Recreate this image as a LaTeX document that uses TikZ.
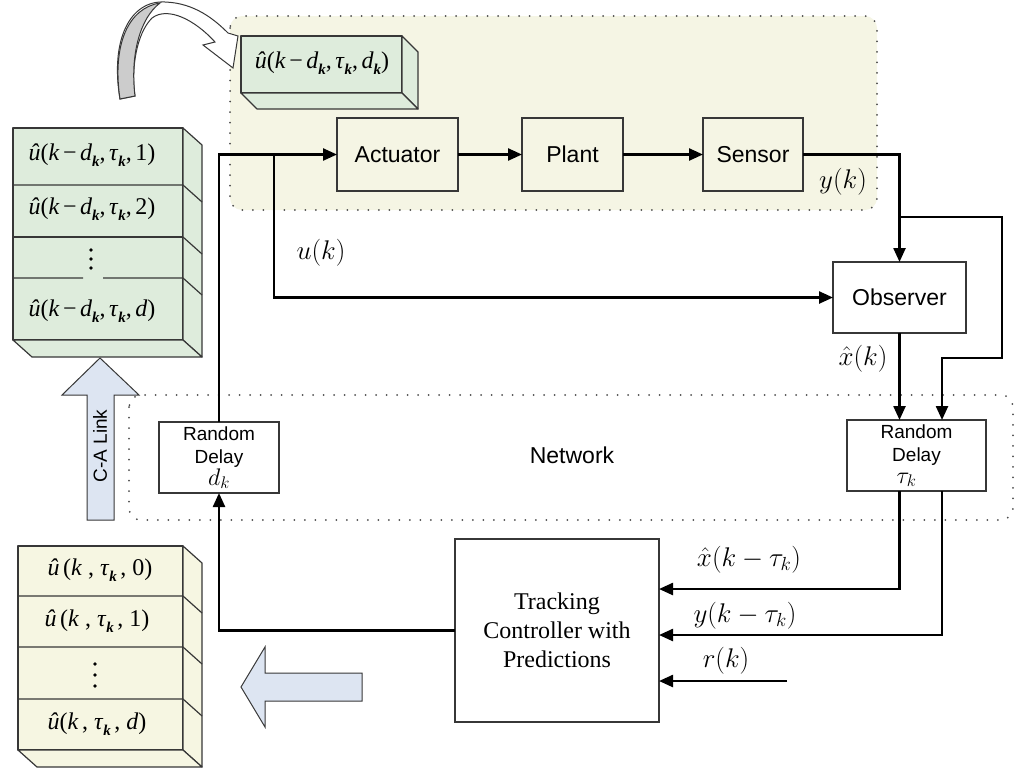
\documentclass[tikz,border=0pt]{standalone}
\usepackage{fix-cm}
\usepackage{fontspec}
\newfontfamily\sansf{Liberation Sans}
\newfontfamily\serf{Liberation Serif}
\usetikzlibrary{arrows.meta,calc}

\definecolor{ctrlzone}{RGB}{245,245,228}
\definecolor{stackgreen}{RGB}{222,236,220}
\definecolor{stackyellow}{RGB}{246,246,226}
\definecolor{hollowblue}{RGB}{221,229,242}
\definecolor{edgegray}{RGB}{55,55,55}

% subscript k of the buffer entries
\newcommand{\ks}{\raisebox{-0.5ex}{\fontsize{15}{15}\selectfont\textbf{\textit{k}}}}
\newcommand{\gp}{\hspace{3.5pt}}
\newcommand{\gq}{\hspace{6pt}}

\tikzset{
  blk/.style={draw=edgegray, line width=1.3pt, inner sep=0pt, outer sep=0pt,
    text=black, font=\sansf\fontsize{23}{27}\selectfont},
  rdbox/.style={blk, align=center, font=\sansf\fontsize{19}{23}\selectfont},
  conn/.style={line width=2.4pt, draw=black},
  arr/.style={conn, -{Triangle[length=14pt,width=12pt]}},
  zone/.style={draw=gray!60!black, dash pattern=on 0pt off 10.5pt,
    line cap=round, line width=2pt},
  face/.style={draw=edgegray, line width=1.2pt, line join=round},
  hollow/.style={fill=hollowblue, draw=edgegray, line width=1pt, line join=miter},
  mlab/.style={inner sep=0pt, font=\fontsize{27}{30}\selectfont},
  buf/.style={inner sep=0pt, font=\serf\fontsize{24}{28}\selectfont}
}

\begin{document}
\begin{tikzpicture}[x=1pt,y=-1pt]
\useasboundingbox (0,0) rectangle (1019,774);

% plant side and network zones
\draw[zone, fill=ctrlzone, rounded corners=12pt] (230,16) rectangle (877,210);
\draw[zone, rounded corners=12pt] (129,395) rectangle (1013,520);
\node[inner sep=0pt, font=\sansf\fontsize{23}{27}\selectfont] (net) at (572,455) {Network};

% curved transfer arrow
\filldraw[fill=white, draw=edgegray, line width=1pt, line join=miter]
  (120,99) .. controls (110,40) and (130,0) .. (165,2)
  .. controls (195,3) and (215,20) .. (228,33) -- (238,36) -- (233,68)
  -- (203,45) -- (215,42) .. controls (195,20) and (168,6) .. (152,18)
  .. controls (136,34) and (131,70) .. (135,96) -- cycle;
\filldraw[fill=gray!40, draw=edgegray, line width=1pt]
  (120,99) .. controls (112,45) and (128,8) .. (160,3)
  .. controls (140,18) and (130,55) .. (135,96) -- cycle;

% current control value buffer
\node[face, fill=stackgreen, inner sep=0pt, outer sep=0pt,
  minimum width=161pt, minimum height=57pt] (curbuf) at (321.5,64.5) {};
\filldraw[face, fill=stackgreen] (curbuf.north east) -- ++(16,16)
  -- ($(curbuf.south east)+(16,16)$) -- (curbuf.south east) -- cycle;
\filldraw[face, fill=stackgreen] (curbuf.south west) -- ++(16,16)
  -- ($(curbuf.south east)+(16,16)$) -- (curbuf.south east) -- cycle;
\node[buf] (curtxt) at (322,63) {\textit{û}(\textit{k}\gp−\gp\textit{d}\ks,\gp\textit{τ}\ks,\gp\textit{d}\ks)};

% actuator-side buffer
\filldraw[face, fill=stackgreen] (13,128) rectangle (183,340);
\filldraw[face, fill=stackgreen] (183,128) -- (202,145) -- (202,357) -- (183,340) -- cycle;
\filldraw[face, fill=stackgreen] (13,340) -- (183,340) -- (202,357) -- (32,357) -- cycle;
\draw[face] (13,185) -- (183,185) -- (202,202);
\draw[face, line width=1.8pt] (13,237) -- (183,237);
\draw[face] (183,237) -- (202,254);
\draw[face] (13,278) -- (83,278) (103,278) -- (183,278) -- (202,295);
\foreach \yy in {250,259,268} \fill (91,\yy) circle (1.8pt);
\node[buf] (ab1) at (92,155) {\textit{û}(\textit{k}\gp−\gp\textit{d}\ks,\gp\textit{τ}\ks,\gp1)};
\node[buf] (ab2) at (92,209) {\textit{û}(\textit{k}\gp−\gp\textit{d}\ks,\gp\textit{τ}\ks,\gp2)};
\node[buf] (abd) at (92,311) {\textit{û}(\textit{k}\gp−\gp\textit{d}\ks,\gp\textit{τ}\ks,\gp\textit{d})};

% C-A link arrow
\filldraw[hollow] (87,520) -- (87,395) -- (62,395) -- (100,358) -- (139,395)
  -- (114,395) -- (114,520) -- cycle;
\node[rotate=90, inner sep=0pt, font=\sansf\fontsize{19}{23}\selectfont] (calink) at (100,446) {C-A Link};

% controller-side buffer
\filldraw[face, fill=stackyellow] (18,546) rectangle (183,750);
\filldraw[face, fill=stackyellow] (183,546) -- (202,563) -- (202,767) -- (183,750) -- cycle;
\filldraw[face, fill=stackyellow] (18,750) -- (183,750) -- (202,767) -- (37,767) -- cycle;
\foreach \yy in {596,647,699} \draw[face] (18,\yy) -- (183,\yy) -- (202,\yy+17);
\foreach \yy in {664,675,686} \fill (95,\yy) circle (1.8pt);
\node[buf] (cb0) at (100,570) {\textit{û}\gp(\textit{k}\gq,\gq\textit{τ}\ks\gp,\gq0)};
\node[buf] (cb1) at (97,621) {\textit{û}\gp(\textit{k}\gq,\gq\textit{τ}\ks\gp,\gq1)};
\node[buf] (cbd) at (97,724) {\textit{û}(\textit{k}\gp,\gq\textit{τ}\ks\gp,\gq\textit{d})};

% arrow into the controller-side buffer
\filldraw[hollow] (362,673) -- (265,673) -- (265,647) -- (241,687) -- (265,727)
  -- (265,701) -- (362,701) -- cycle;

% blocks
\node[blk, minimum width=121pt, minimum height=73pt] (act) at (397.5,154.5) {Actuator};
\node[blk, minimum width=101pt, minimum height=73pt] (plant) at (572.5,154.5) {Plant};
\node[blk, minimum width=100pt, minimum height=73pt] (sen) at (753,154.5) {Sensor};
\node[blk, minimum width=133pt, minimum height=71pt] (obs) at (899.5,297.5) {Observer};
\node[rdbox, minimum width=120pt, minimum height=71pt] (rdd) at (219,457.5)
  {Random\\Delay\\[-1pt]{\fontsize{24}{24}\selectfont$d_k$}};
\node[rdbox, minimum width=139pt, minimum height=71pt] (rdt) at (916.5,455.5)
  {Random\\Delay\\[-1pt]\hspace*{-20pt}{\fontsize{24}{24}\selectfont$\tau_k$}};
\node[blk, align=center, minimum width=204pt, minimum height=183pt,
  font=\serf\fontsize{24}{29}\selectfont] (tr) at (557,630.5)
  {Tracking\\Controller with\\Predictions};

% signal labels
\node[mlab] (lu) at (321,253) {$u(k)$};
\node[mlab] (ly) at (843,182) {$y(k)$};
\node[mlab] (lxh) at (863,359) {$\hat{x}(k)$};
\node[mlab] (lxt) at (749,560) {$\hat{x}(k-\tau_k)$};
\node[mlab] (lyt) at (745,616) {$y(k-\tau_k)$};
\node[mlab] (lr) at (726,661) {$r(k)$};

% connectors
\coordinate (tap) at (274,154.5);
\coordinate (ytap) at (899.5,217);
\coordinate (yturn) at (1002,358);
\coordinate (yin) at ($(rdt.north)+(25.5,0)$);
\coordinate (xo) at ($(rdt.south)+(-17,0)$);
\coordinate (yo) at ($(rdt.south)+(25.5,0)$);
\coordinate (xlev) at (0,589);
\coordinate (ylev) at (0,635);
\coordinate (rsrc) at (787,681);

\draw[arr] (rdd.north) |- (act.west);
\draw[arr] (tap) |- (obs.west);
\draw[arr] (act.east) -- (plant.west);
\draw[arr] (plant.east) -- (sen.west);
\draw[arr] (sen.east) -| (obs.north);
\draw[arr] (ytap) -| (yturn) -| (yin);
\draw[arr] (obs.south) -- (obs.south |- rdt.north);
\draw[arr] (xo) |- (tr.east |- xlev);
\draw[arr] (yo) |- (tr.east |- ylev);
\draw[arr] (rsrc) -- (tr.east |- rsrc);
\draw[arr] (tr.west) -| (rdd.south);
\end{tikzpicture}
\end{document}
